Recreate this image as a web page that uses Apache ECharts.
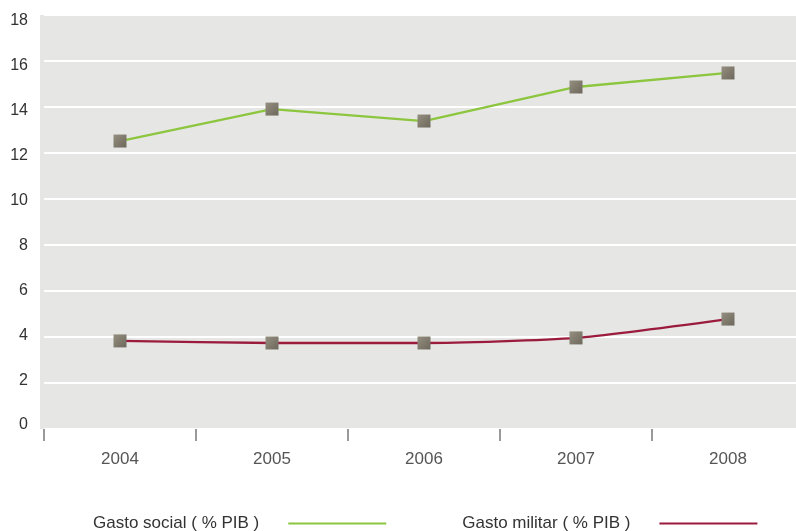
<!DOCTYPE html>
<html><head><meta charset="utf-8">
<script src="https://cdn.jsdelivr.net/npm/echarts@6/dist/echarts.min.js"></script>
<style>html,body{margin:0;padding:0;background:#fff}#c{width:796px;height:531px}</style>
</head><body><div id="c"></div>
<script>
const years = ['2004', '2005', '2006', '2007', '2008'];
const gastoSocial = [12.52, 13.91, 13.39, 14.87, 15.48];
const gastoMilitar = [3.83, 3.74, 3.74, 3.96, 4.78];
const seriesNames = ['Gasto social ( % PIB )', 'Gasto militar ( % PIB )'];

const chart = echarts.init(document.getElementById('c'), null, {renderer: 'canvas'});
const markerColor = new echarts.graphic.LinearGradient(0, 0, 1, 1, [
  {offset: 0, color: '#958f80'}, {offset: 1, color: '#6c685b'}
]);
chart.setOption({
  animation: false,
  backgroundColor: '#fff',
  textStyle: {fontFamily: 'Liberation Sans'},
  graphic: [{
    type: 'rect', z: -10, silent: true,
    shape: {x: 40, y: 15, width: 756, height: 414},
    style: {fill: '#e6e6e5'}
  }],
  grid: [
    {left: 44, width: 760, top: 15, bottom: 102, containLabel: false, outerBoundsMode: 'none'},
    {left: 44, width: 760, top: 21, bottom: 106, containLabel: false, outerBoundsMode: 'none'}
  ],
  legend: {
    left: 88, top: 510, align: 'right',
    itemWidth: 98, itemHeight: 2, itemGap: 76,
    textStyle: {fontSize: 17, color: '#333', padding: [0, 24, 0, 0]},
    data: [
      {name: seriesNames[0], icon: 'rect'},
      {name: seriesNames[1], icon: 'rect'}
    ]
  },
  xAxis: [
    {
      type: 'category', data: years, boundaryGap: true, offset: 3, gridIndex: 0,
      axisLine: {show: false},
      axisTick: {show: true, length: 12, lineStyle: {color: '#9a9a9a', width: 2}},
      axisLabel: {fontSize: 17, color: '#555', margin: 19, letterSpacing: 2.5}
    },
    {type: 'category', data: years, gridIndex: 1, show: false}
  ],
  yAxis: [
    {
      type: 'value', min: 0, max: 18, interval: 2, gridIndex: 0,
      axisLine: {show: false}, axisTick: {show: false},
      axisLabel: {show: false},
      splitLine: {lineStyle: {color: '#ffffff', width: 2}}
    },
    {
      type: 'value', min: 0, max: 18, interval: 2, gridIndex: 1,
      axisLine: {show: false}, axisTick: {show: false},
      axisLabel: {fontSize: 16, color: '#333', margin: 16},
      splitLine: {show: false}
    }
  ],
  series: [
    {
      name: seriesNames[0], type: 'line',
      data: gastoSocial.map(v => ({value: v, itemStyle: {color: markerColor}})),
      symbol: 'rect', symbolSize: 13,
      lineStyle: {color: '#8cc63e', width: 2.3},
      itemStyle: {color: '#8cc63e'},
      emphasis: {disabled: true}
    },
    {
      name: seriesNames[1], type: 'line',
      data: gastoMilitar.map(v => ({value: v, itemStyle: {color: markerColor}})),
      symbol: 'rect', symbolSize: 13, smooth: 0.2,
      lineStyle: {color: '#9b1b3d', width: 2.3},
      itemStyle: {color: '#9b1b3d'},
      emphasis: {disabled: true}
    }
  ]
});
</script></body></html>
